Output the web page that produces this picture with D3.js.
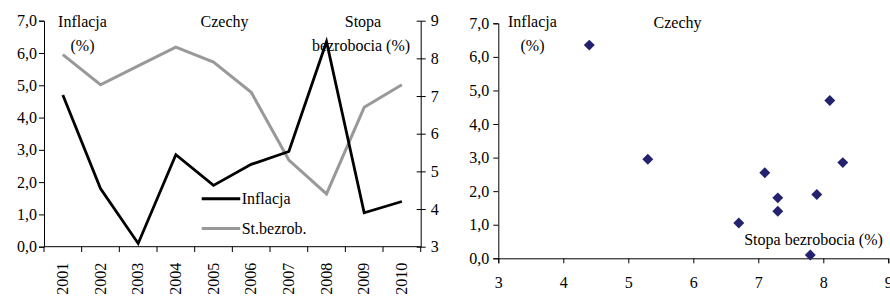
<!DOCTYPE html>
<html>
<head>
<meta charset="utf-8">
<script src="https://cdn.jsdelivr.net/npm/d3@7"></script>
<style>
  body { margin: 0; background: #fff; }
  svg text { font-family: "Liberation Serif", "DejaVu Serif", serif; font-size: 16px; fill: #000; }
</style>
</head>
<body>
<script>
// data
var years = ["2001","2002","2003","2004","2005","2006","2007","2008","2009","2010"];
var inflacja = [4.7, 1.8, 0.1, 2.85, 1.9, 2.55, 2.95, 6.35, 1.05, 1.4];
var bezrobocie = [8.1, 7.3, 7.8, 8.3, 7.9, 7.1, 5.3, 4.4, 6.7, 7.3];
var legendNames = ["Inflacja", "St.bezrob."];
var leftTicks = [0, 1, 2, 3, 4, 5, 6, 7];
var rightTicks = [3, 4, 5, 6, 7, 8, 9];
var scatterXTicks = [3, 4, 5, 6, 7, 8, 9];

var W = 890, H = 298;
var fmt = function(d){ return d.toFixed(1).replace(".", ","); };
var fmtInt = d3.format("d");

var svg = d3.select("body").append("svg")
    .attr("width", W)
    .attr("height", H);

//----- left chart: two lines, two y axes
var x = d3.scaleBand()
    .domain(years)
    .range([44, 420.7]);

var yL = d3.scaleLinear().domain([0, 7]).range([246.7, 20.7]);
var yR = d3.scaleLinear().domain([3, 9]).range([246.7, 20.7]);

svg.append("g")
    .attr("transform", "translate(44,0)")
    .call(d3.axisLeft(yL).tickValues(leftTicks).tickSize(5).tickPadding(2).tickFormat(fmt));

svg.append("g")
    .attr("transform", "translate(420.7,0)")
    .call(d3.axisRight(yR).tickValues(rightTicks).tickSizeInner(5).tickSizeOuter(0).tickPadding(5).tickFormat(fmtInt))
    .call(function(g){
        g.selectAll(".tick line").attr("x1", -4);
    });

// x axis: labels rotated, ticks on band edges
var gx = svg.append("g")
    .attr("transform", "translate(0,246.7)")
    .call(d3.axisBottom(x).tickSize(0).tickPadding(0));
gx.select(".domain").remove();
gx.selectAll("text")
    .attr("transform", "rotate(-90)")
    .attr("text-anchor", "end")
    .attr("x", -16)
    .attr("y", 0)
    .attr("dy", "0.33em");

var edges = years.map(function(d){ return x(d); }).concat([x.range()[1]]);
svg.append("line")
    .attr("x1", x.range()[0]).attr("x2", x.range()[1])
    .attr("y1", 246.7).attr("y2", 246.7)
    .attr("stroke", "#000");
svg.selectAll(".xedge")
    .data(edges)
    .enter().append("line")
    .attr("class", "xedge")
    .attr("x1", function(d){ return d; }).attr("x2", function(d){ return d; })
    .attr("y1", 246.7).attr("y2", 252)
    .attr("stroke", "#000");

var cx = function(i){ return x(years[i]) + x.bandwidth() / 2; };

var lineR = d3.line()
    .x(function(d, i){ return cx(i); })
    .y(function(d){ return yR(d); });
var lineL = d3.line()
    .x(function(d, i){ return cx(i); })
    .y(function(d){ return yL(d); });

svg.append("path")
    .datum(bezrobocie)
    .attr("fill", "none")
    .attr("stroke", "#999999")
    .attr("stroke-width", 3)
    .attr("d", lineR);

svg.append("path")
    .datum(inflacja)
    .attr("fill", "none")
    .attr("stroke", "#000")
    .attr("stroke-width", 2.8)
    .attr("d", lineL);

// legend
var legColors = ["#000", "#999999"];
var leg = svg.selectAll(".leg")
    .data(legendNames)
    .enter().append("g")
    .attr("class", "leg")
    .attr("transform", function(d, i){ return "translate(201.7," + (198.8 + i * 29.7) + ")"; });
leg.append("line")
    .attr("x1", 0).attr("x2", 38.5)
    .attr("stroke", function(d, i){ return legColors[i]; })
    .attr("stroke-width", 3);
leg.append("text")
    .attr("x", 40)
    .attr("y", 5)
    .text(function(d){ return d; });

// titles
svg.append("text").attr("x", 82.5).attr("y", 27.3).attr("text-anchor", "middle").text("Inflacja");
svg.append("text").attr("x", 82.5).attr("y", 51).attr("text-anchor", "middle").text("(%)");
svg.append("text").attr("x", 224.5).attr("y", 27.3).attr("text-anchor", "middle").text("Czechy");
svg.append("text").attr("x", 363).attr("y", 27.3).attr("text-anchor", "middle").text("Stopa");
svg.append("text").attr("x", 361).attr("y", 51).attr("text-anchor", "middle").text("bezrobocia (%)");

//----- right chart: scatter
var sx = d3.scaleLinear().domain([3, 9]).range([498.3, 888.3]);
var sy = d3.scaleLinear().domain([0, 7]).range([258.3, 23.3]);

svg.append("g")
    .attr("transform", "translate(498.3,0)")
    .call(d3.axisLeft(sy).tickValues(leftTicks).tickSize(5).tickPadding(4).tickFormat(fmt));

svg.append("g")
    .attr("transform", "translate(0,258.3)")
    .call(d3.axisBottom(sx).tickValues(scatterXTicks).tickSize(5).tickPadding(13).tickFormat(fmtInt));

var diamond = d3.symbol().type(d3.symbolSquare).size(60);
svg.selectAll(".pt")
    .data(years)
    .enter().append("path")
    .attr("class", "pt")
    .attr("d", diamond)
    .attr("fill", "#22226e")
    .attr("transform", function(d, i){
        return "translate(" + sx(bezrobocie[i]) + "," + sy(inflacja[i]) + ") rotate(45)";
    });

svg.append("text").attr("x", 532.4).attr("y", 27.3).attr("text-anchor", "middle").text("Inflacja");
svg.append("text").attr("x", 532.5).attr("y", 51).attr("text-anchor", "middle").text("(%)");
svg.append("text").attr("x", 677.5).attr("y", 28).attr("text-anchor", "middle").text("Czechy");
svg.append("text").attr("x", 813.5).attr("y", 245).attr("text-anchor", "middle").text("Stopa bezrobocia (%)");
</script>
</body>
</html>
